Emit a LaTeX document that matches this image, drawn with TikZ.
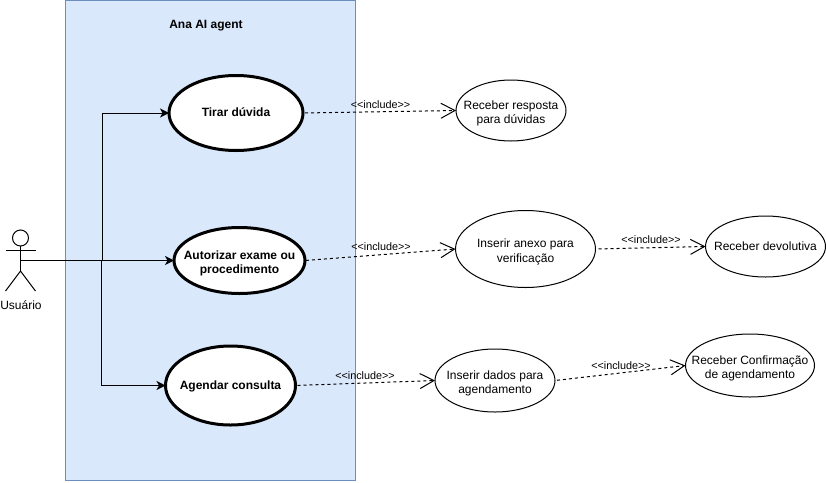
\documentclass[tikz,border=0pt]{standalone}
\usepackage{fontspec}
\setmainfont{Liberation Sans}
\usetikzlibrary{shapes.geometric,arrows.meta}
\definecolor{boxfill}{HTML}{DAE8FC}
\definecolor{boxline}{HTML}{6C8EBF}
\newcommand{\usetext}[2][-.33em]{\makebox[0pt][c]{\smash{\raisebox{#1}{\begin{tabular}{@{}c@{}}#2\end{tabular}}}}}
\newcommand{\twolines}[1]{\usetext[-6.3pt]{#1}}
\tikzset{
  usecase/.style={ellipse,draw=black,fill=white,line width=1pt,inner sep=0pt,outer sep=0pt,
    font=\fontsize{12}{14.5}\selectfont},
  mainuse/.style={usecase,line width=3pt,font=\fontsize{12}{14.5}\selectfont\bfseries},
  assoc/.style={line width=1pt,-{Stealth[length=9pt,width=9pt,inset=2.5pt]}},
  incl/.style={line width=1pt,dash pattern=on 3pt off 3pt,-{Straight Barb[length=14pt,width=15pt,line width=1pt]}},
  incllabel/.style={font=\fontsize{10.8}{12}\selectfont,inner sep=0pt},
  actorline/.style={line width=1pt,draw=black}
}
\begin{document}
\begin{tikzpicture}[x=1pt,y=-1pt]
\useasboundingbox (0,0) rectangle (826,482);
\fill[white] (0,0) rectangle (826,482);
\node[draw=boxline,fill=boxfill,line width=1pt,minimum width=290pt,minimum height=480pt,inner sep=0pt,outer sep=0pt] (system) at (210.5,240) {};
\node[font=\fontsize{12}{14}\selectfont\bfseries,inner sep=0pt] (title) at (206,26) {Ana AI agent};

\node[mainuse,minimum width=134pt,minimum height=75pt] (tirar) at (236,113) {\usetext{Tirar dúvida}};
\node[mainuse,minimum width=131pt,minimum height=66pt] (autorizar) at (239.5,260.5) {\twolines{Autorizar exame ou\\procedimento}};
\node[mainuse,minimum width=130pt,minimum height=79pt] (agendar) at (230.5,385.5) {\usetext{Agendar consulta}};

\node[usecase,minimum width=110pt,minimum height=61pt] (resposta) at (511,110.5) {\twolines{Receber resposta\\para dúvidas}};
\node[usecase,minimum width=140pt,minimum height=77pt] (anexo) at (525.5,249) {\twolines{Inserir anexo para\\verificação}};
\node[usecase,minimum width=120pt,minimum height=61pt] (devolutiva) at (765.5,246.5) {\usetext{Receber devolutiva}};
\node[usecase,minimum width=120pt,minimum height=63pt] (dados) at (495,380.5) {\twolines{Inserir dados para\\agendamento}};
\node[usecase,minimum width=129pt,minimum height=63pt] (confirmacao) at (750,365.5) {\twolines{Receber Confirmação\\de agendamento}};

% actor
\node[circle,draw=black,fill=white,line width=1pt,minimum size=16pt,inner sep=0pt,outer sep=0pt] (head) at (20.5,238) {};
\coordinate (hip) at (20.5,271);
\coordinate (waist) at (20.5,260.5);
\draw[actorline] (head.south) -- (hip);
\draw[actorline] (5.5,250.5) -- (35.5,250.5);
\draw[actorline] (5.5,291) -- (hip) -- (35.5,291);
\node[font=\fontsize{12}{14}\selectfont,inner sep=0pt] (usuario) at (21,305) {Usuário};

% associations
\draw[assoc] (waist) -| (102,113) -- (tirar.west);
\draw[assoc] (waist) -- (autorizar.west);
\draw[assoc] (waist) -| (101,385.5) -- (agendar.west);

% includes
\draw[incl,shorten <=2pt] (tirar.east) -- (resposta.west);
\draw[incl,shorten <=1pt] (autorizar.east) -- (anexo.west);
\draw[incl,shorten <=3pt] (anexo.east) -- (devolutiva.west);
\draw[incl,shorten <=2pt] (agendar.east) -- (dados.west);
\draw[incl,shorten <=2pt] (dados.east) -- (confirmacao.west);

\node[incllabel] (l1) at (380.5,104.5) {{<}{<}include{>}{>}};
\node[incllabel] (l2) at (381,246.5) {{<}{<}include{>}{>}};
\node[incllabel] (l3) at (651,239.5) {{<}{<}include{>}{>}};
\node[incllabel] (l4) at (365,375.5) {{<}{<}include{>}{>}};
\node[incllabel] (l5) at (621,366) {{<}{<}include{>}{>}};
\end{tikzpicture}
\end{document}
